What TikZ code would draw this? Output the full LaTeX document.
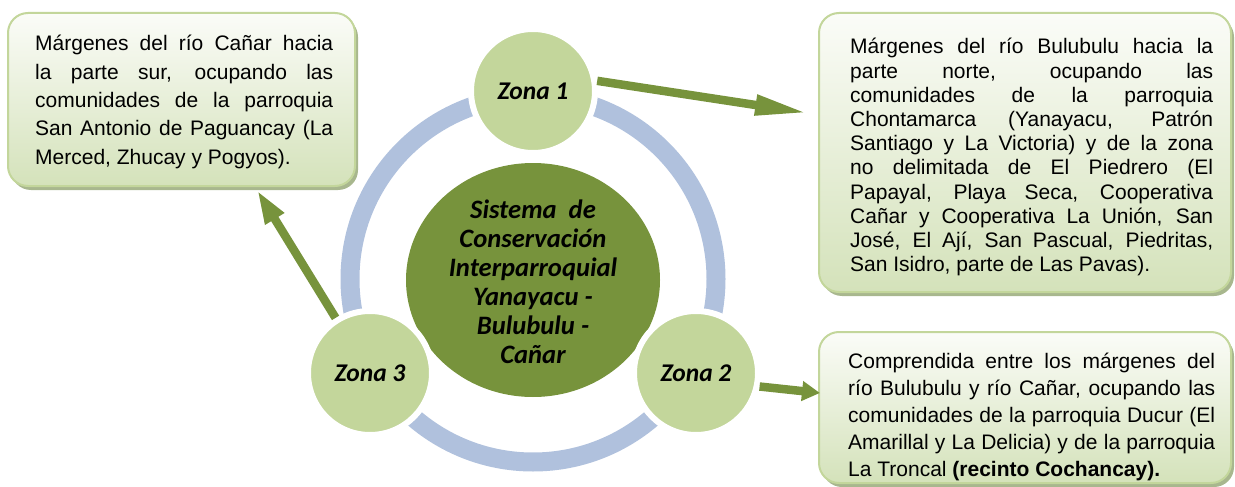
\documentclass[tikz,border=0pt]{standalone}
\usepackage{fontspec}
\setmainfont{Liberation Sans}
\newfontfamily\calfont{Carlito}
\usetikzlibrary{arrows.meta,shadows}
\definecolor{dkgreen}{HTML}{77933C}
\definecolor{ltgreen}{HTML}{C3D69B}
\definecolor{ringblue}{HTML}{B0C1DD}
\definecolor{boxtop}{HTML}{FBFCF8}
\definecolor{boxbot}{HTML}{D4E2BA}
\definecolor{boxedge}{HTML}{C3D69B}
\definecolor{shcol}{HTML}{A8B78E}
\begin{document}
\begin{tikzpicture}[x=1pt,y=-1pt,
  zone/.style={circle, fill=ltgreen, draw=white, line width=6pt, minimum size=124pt,
    inner sep=0pt, font=\calfont\bfseries\itshape\fontsize{25.5}{30}\selectfont},
  box/.style={rectangle, rounded corners=20pt, draw=boxedge, line width=2pt,
    top color=boxtop, bottom color=boxbot,
    general shadow={fill=shcol, shadow xshift=3pt, shadow yshift=-4pt}, inner sep=0pt},
  txt/.style={anchor=base west, inner sep=0pt, align=justify},
  arr/.style={draw=dkgreen, line width=8.5pt}
]
\useasboundingbox (0,0) rectangle (1235,487);

% ring and centre
\draw[ringblue, line width=19pt] (533,279) circle [radius=183pt];
\fill[dkgreen] (533,280) ellipse [x radius=127pt, y radius=117pt];
\node[font=\calfont\bfseries\itshape\fontsize{26.6}{29}\selectfont, align=center, inner sep=0pt] (ctr) at (533,282)
  {Sistema\ \ de\\Conservación\\Interparroquial\\Yanayacu -\\Bulubulu -\\Cañar};

% zones
\node[zone] (z1) at (533,91) {Zona 1};
\node[zone] (z2) at (696,373) {Zona 2};
\node[zone] (z3) at (370,373) {Zona 3};

% boxes
\node[box, minimum width=347pt, minimum height=173pt] (b1) at (181.5,99.5) {};
\node[box, minimum width=412pt, minimum height=279pt] (b2) at (1025,152.5) {};
\node[box, minimum width=412pt, minimum height=151pt] (b3) at (1025,407.5) {};

\node[txt, text width=298pt, font=\fontsize{21}{28.3}\selectfont] (t1) at (35,51)
  {\tolerance=9999\hyphenpenalty=10000\relax
  Márgenes del río Cañar hacia\linebreak
  la parte sur, ocupando las\linebreak
  comunidades de la parroquia\linebreak
  San Antonio de Paguancay (La\linebreak
  Merced, Zhucay y Pogyos).};

\node[txt, text width=363pt, font=\fontsize{21}{24.2}\selectfont] (t2) at (850,54)
  {\tolerance=9999\hyphenpenalty=10000\relax
  Márgenes del río Bulubulu hacia la\linebreak
  parte norte, ocupando las\linebreak
  comunidades de la parroquia\linebreak
  Chontamarca (Yanayacu, Patrón\linebreak
  Santiago y La Victoria) y de la zona\linebreak
  no delimitada de El Piedrero (El\linebreak
  Papayal, Playa Seca, Cooperativa\linebreak
  Cañar y Cooperativa La Unión, San\linebreak
  José, El Ají, San Pascual, Piedritas,\linebreak
  San Isidro, parte de Las Pavas).};

\node[txt, text width=367pt, font=\fontsize{21}{27.1}\selectfont] (t3) at (848,368)
  {\tolerance=9999\hyphenpenalty=10000\relax
  Comprendida entre los márgenes del\linebreak
  río Bulubulu y río Cañar, ocupando las\linebreak
  comunidades de la parroquia Ducur (El\linebreak
  Amarillal y La Delicia) y de la parroquia\linebreak
  La Troncal \textbf{(recinto Cochancay).}};

% arrows
\coordinate (a1) at (808,113);
\coordinate (a2) at (820,393);
\coordinate (a3) at (257,190);
\draw[arr, -{Triangle[length=53pt,width=19pt]}] (z1.9) -- (a1);
\draw[arr, -{Triangle[length=18pt,width=19pt]}] (z2.-12) -- (a2);
\draw[arr, -{Triangle[length=34pt,width=20pt]}] (z3.122) -- (a3);
\end{tikzpicture}
\end{document}
